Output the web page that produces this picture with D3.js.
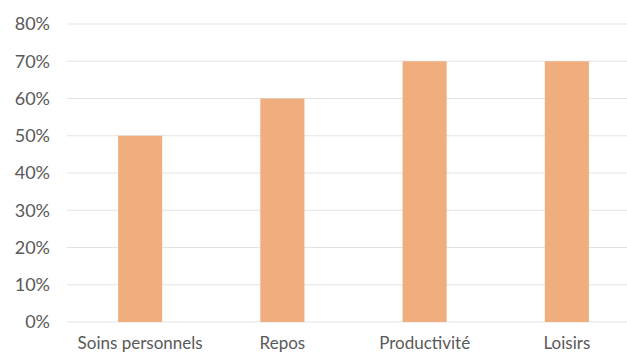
<!DOCTYPE html>
<html>
<head>
<meta charset="utf-8">
<script src="https://cdn.jsdelivr.net/npm/d3@7"></script>
<style>
  html, body { margin: 0; padding: 0; background: #fff; }
  svg { display: block; }
  text { font-family: Lato, "Open Sans", sans-serif; fill: #595959; }
</style>
</head>
<body>
<svg id="chart" width="627" height="354"></svg>
<script>
// Share of time per activity
const categories = ["Soins personnels", "Repos", "Productivité", "Loisirs"];
const values = [0.50, 0.60, 0.70, 0.70];
const yTicks = [0, 0.1, 0.2, 0.3, 0.4, 0.5, 0.6, 0.7, 0.8];

const svg = d3.select("#chart");
const W = 627, H = 354;
const plot = { left: 69, right: 638, top: 24, bottom: 322 };

const x = d3.scaleBand()
  .domain(categories)
  .range([plot.left, plot.right])
  .paddingInner(0.69)
  .paddingOuter(0.345);

const y = d3.scaleLinear()
  .domain([0, 0.8])
  .range([plot.bottom, plot.top]);

// Horizontal gridlines
svg.append("g")
  .selectAll("line")
  .data(yTicks)
  .join("line")
  .attr("x1", 67)
  .attr("x2", W)
  .attr("y1", d => y(d))
  .attr("y2", d => y(d))
  .attr("stroke", "#e3e3e3")
  .attr("stroke-width", 1);

// Y axis labels
const yAxis = d3.axisLeft(y)
  .tickValues(yTicks)
  .tickFormat(d3.format(".0%"))
  .tickSize(0)
  .tickPadding(0);

svg.append("g")
  .attr("transform", "translate(50,0)")
  .call(yAxis)
  .call(g => g.select(".domain").remove())
  .call(g => g.selectAll("text")
    .attr("fill", "#595959")
    .style("font-family", "Lato, sans-serif")
    .style("font-size", "18px"));

// Bars
svg.append("g")
  .selectAll("rect")
  .data(values)
  .join("rect")
  .attr("x", (d, i) => x(categories[i]))
  .attr("width", x.bandwidth())
  .attr("y", d => y(d))
  .attr("height", d => y(0) - y(d))
  .attr("fill", "#f0ad7e");

// Category labels
const xAxis = d3.axisBottom(x).tickSize(0).tickPadding(0);
svg.append("g")
  .attr("transform", `translate(0,${plot.bottom})`)
  .call(xAxis)
  .call(g => g.select(".domain").remove())
  .call(g => g.selectAll("text")
    .attr("dy", null)
    .attr("y", 27)
    .attr("fill", "#595959")
    .style("font-family", "Lato, sans-serif")
    .style("font-size", "17px"));
</script>
</body>
</html>
